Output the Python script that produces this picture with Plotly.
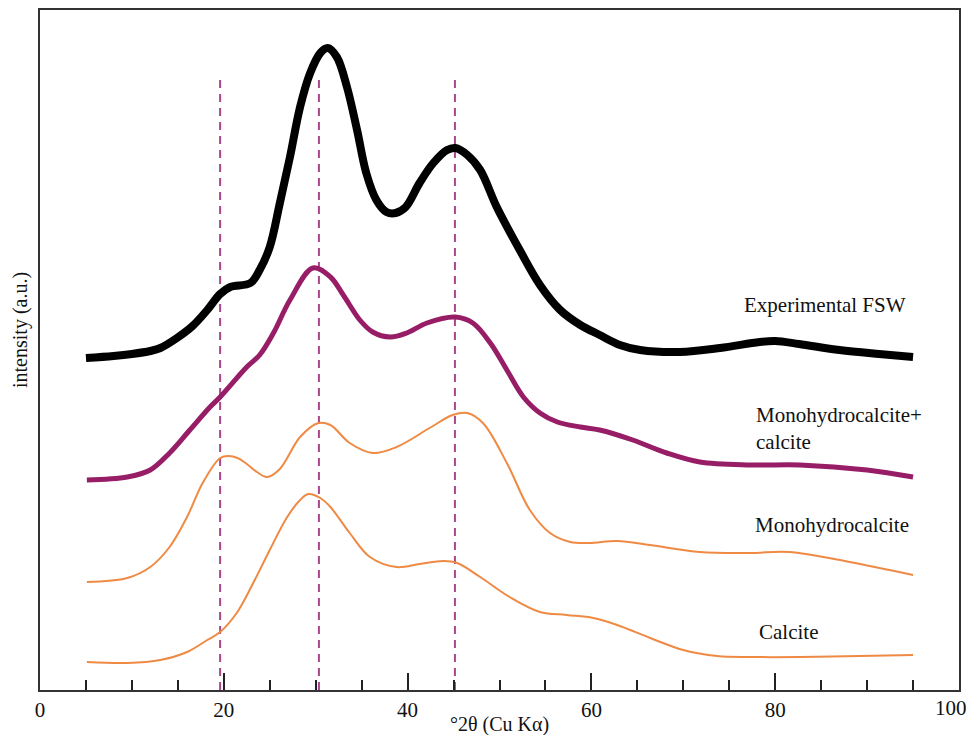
import plotly.graph_objects as go

# ---- data (x = °2θ, y = intensity a.u., offset stacked) ----
exp_x = [5.0, 8.0, 10.0, 12.0, 13.1, 14.9, 16.6, 18.2, 19.6, 20.7, 22.9, 23.9, 25.0, 26.1, 27.2,
         28.3, 29.4, 30.5, 31.3, 32.3, 33.4, 34.5, 35.5, 36.6, 37.7, 38.7, 39.8, 41.3,
         42.8, 44.3, 45.2, 46.5, 47.9, 49.7, 52.2, 54.4, 56.6, 58.8, 60.9, 63.1, 65.3,
         69.6, 74.0, 78.3, 80.0, 82.6, 87.0, 91.3, 95.0]
exp_y = [332, 334, 336, 339, 342, 352, 364, 380, 396, 403, 407, 420, 443, 487, 533,
         583, 617, 637, 642, 633, 603, 560, 517, 490, 478, 477, 483, 507,
         527, 540, 542, 535, 520, 483, 440, 405, 380, 365, 355, 345, 340,
         338, 342, 348, 349, 346, 340, 336, 333]

mix_x = [5.1, 9.5, 12.0, 14.1, 16.3, 18.5, 19.6, 22.5, 23.9, 25.4, 27.2, 29.7, 31.6,
         33.0, 34.8, 36.2, 38.1, 39.9, 42.1, 45.2, 47.1, 49.0, 50.8, 52.6, 54.4, 56.3,
         58.8, 60.9, 64.5, 68.2, 71.8, 77.3, 82.7, 90.0, 95.0]
mix_y = [210, 213, 220, 237, 260, 283, 293, 323, 335, 357, 390, 422, 413,
         395, 370, 358, 353, 357, 367, 373, 367, 347, 320, 293, 277, 268,
         263, 260, 250, 237, 228, 225, 225, 220, 213]

mono_x = [5.1, 9.5, 12.0, 14.1, 16.0, 17.7, 19.6, 20.5, 21.5, 22.5, 23.6, 24.7, 26.1, 28.3, 30.3,
          31.6, 33.7, 36.2, 38.8, 42.4, 44.9, 46.5, 48.2, 50.8, 53.3, 55.5, 57.7,
          59.8, 62.8, 66.4, 71.8, 77.3, 81.5, 88.1, 95.0]
mono_y = [108, 112, 123, 143, 173, 207, 232, 234, 232, 226, 218, 213, 221, 253, 267,
          265, 247, 237, 243, 262, 275, 277, 267, 227, 180, 157, 148,
          147, 149, 145, 138, 137, 138, 128, 115]

calc_x = [5.1, 9.5, 13.1, 16.0, 18.2, 19.6, 21.4, 23.2, 25.0, 26.9, 28.3, 29.2, 30.5,
          31.6, 33.7, 35.9, 38.8, 41.3, 43.9, 45.4, 47.9, 51.1, 54.4,
          57.3, 60.2, 62.8, 66.4, 70.0, 73.7, 77.3, 82.7, 89.2, 95.0]
calc_y = [28, 27, 30, 38, 50, 58, 77, 107, 140, 173, 190, 196, 192,
          183, 157, 133, 123, 126, 129, 127, 113, 93, 78,
          75, 72, 65, 52, 40, 34, 33, 33, 34, 35]

peak_positions = [19.6, 30.35, 45.15]
peak_line_top = 612

x_ticks = [0, 20, 40, 60, 80, 100]
x_tick_text = ["0", "20", "40", "60", "80", ""]
last_tick_label = "100"

PURPLE = "#971d66"
ORANGE = "#ef8a45"
DASH = "#a8478a"
FONT = "Liberation Serif"
SM = 1.0

fig = go.Figure()

for px in peak_positions:
    fig.add_trace(go.Scatter(x=[px, px], y=[0, peak_line_top], mode="lines",
                             line=dict(color=DASH, width=2, dash="8px,6px"),
                             hoverinfo="skip", showlegend=False))

fig.add_trace(go.Scatter(x=calc_x, y=calc_y, mode="lines", name="Calcite",
                         line=dict(color=ORANGE, width=2, shape="spline", smoothing=SM)))
fig.add_trace(go.Scatter(x=mono_x, y=mono_y, mode="lines", name="Monohydrocalcite",
                         line=dict(color=ORANGE, width=2, shape="spline", smoothing=SM)))
fig.add_trace(go.Scatter(x=mix_x, y=mix_y, mode="lines", name="Monohydrocalcite+calcite",
                         line=dict(color=PURPLE, width=5, shape="spline", smoothing=SM)))
fig.add_trace(go.Scatter(x=exp_x, y=exp_y, mode="lines", name="Experimental FSW",
                         line=dict(color="black", width=8, shape="spline", smoothing=SM)))

labels = [
    ("Experimental FSW", 76.4, 385),
    ("Monohydrocalcite+<br>calcite", 77.7, 262),
    ("Monohydrocalcite", 77.6, 165),
    ("Calcite", 78.0, 58),
]
for text, lx, ly in labels:
    fig.add_annotation(x=lx, y=ly, xref="x", yref="y", text=text, showarrow=False,
                       xanchor="left", yanchor="middle", align="left",
                       font=dict(family=FONT, size=21, color="#111"))

# axis titles as paper-positioned text
fig.add_annotation(x=(20 - 40) / 919, y=(690 - 330) / 680, xref="paper", yref="paper",
                   text="intensity (a.u.)", showarrow=False, textangle=-90,
                   xanchor="center", yanchor="middle",
                   font=dict(family=FONT, size=20, color="#111"))
fig.add_annotation(x=0.5, y=(690 - 724) / 680, xref="paper", yref="paper",
                   text="°2θ (Cu Kα)", showarrow=False, xanchor="center", yanchor="middle",
                   borderpad=0, font=dict(family=FONT, size=20, color="#111"))
# last tick label, nudged inside the page
fig.add_annotation(x=(951 - 40) / 919, y=(690 - 708) / 680, xref="paper", yref="paper",
                   text=last_tick_label, showarrow=False, xanchor="center", yanchor="middle",
                   font=dict(family=FONT, size=21, color="#111"))

fig.update_layout(
    width=973, height=735,
    margin=dict(l=40, r=14, t=10, b=45, autoexpand=False),
    plot_bgcolor="white", paper_bgcolor="white",
    showlegend=False,
    xaxis=dict(range=[0, 100], tickvals=x_ticks, ticktext=x_tick_text, ticks="inside",
               ticklen=17, tickwidth=1.5, ticklabelstandoff=0,
               tickcolor="#222", showline=True, linecolor="#333", linewidth=1.5, mirror=True,
               showgrid=False, zeroline=False, automargin=False,
               tickfont=dict(family=FONT, size=21, color="#111"),
               minor=dict(dtick=5, ticks="inside", ticklen=10, tickwidth=1.5, tickcolor="#222",
                          showgrid=False)),
    yaxis=dict(range=[0, 680], showticklabels=False, ticks="", showline=True, automargin=False,
               linecolor="#333", linewidth=1.5, mirror=True, showgrid=False, zeroline=False),
)

fig.write_html("out.html")
